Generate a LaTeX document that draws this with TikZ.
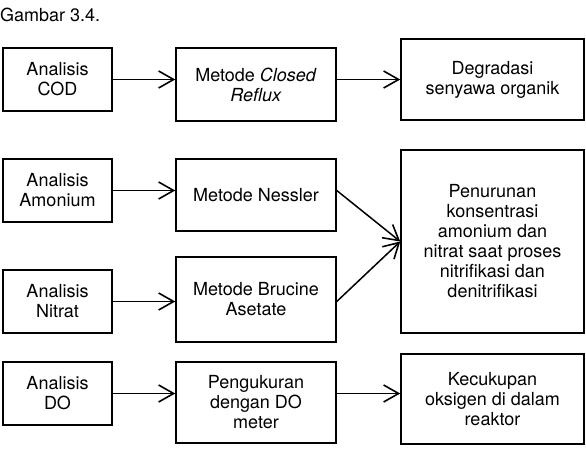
\documentclass[tikz,border=0pt]{standalone}
\usepackage{fontspec}
\setmainfont{TeX Gyre Heros}
\usepackage{tikz}
\usetikzlibrary{arrows.meta,
           positioning}

\tikzset{
  kotak/.style={draw, line width=1.5pt, align=center, inner sep=0pt,
                font=\fontsize{18}{20}\selectfont},
  kiri/.style={kotak, minimum width=109pt, minimum height=63pt},
  tengah/.style={kotak, minimum width=160pt},
  kanan/.style={kotak, minimum width=183pt},
  panah/.style={line width=1.5pt, -{Straight Barb[length=15pt,width=17pt,line width=1.6pt]}}
}

\begin{document}
\begin{tikzpicture}[x=1pt,y=-1pt]
    \useasboundingbox (0,0) rectangle (586,448);
    \node[anchor=base west, inner sep=0pt, font=\fontsize{18}{20}\selectfont](judul) at (0,21){Gambar 3.4.};
    % kolom analisis
    \node[kiri](cod)at(57.5,79.5){Analisis\\COD};
    \node[kiri](amon)at(57.5,190.5){Analisis\\Amonium};
    \node[kiri](nitrat)at(57.5,301.5){Analisis\\Nitrat};
    \node[kiri](do)at(57.5,393.5){Analisis\\DO};
    % kolom metode
    \node[tengah, minimum height=73pt](reflux)at(256,84.5){Metode \textit{Closed}\\\textit{Reflux}};
    \node[tengah, minimum height=72pt](nessler)at(256,195){Metode Nessler};
    \node[tengah, minimum height=85pt](brucine)at(256,299.5){Metode Brucine\\Asetate};
    \node[tengah, minimum height=81pt](ukur)at(256,402.5){Pengukuran\\dengan DO\\meter};
    % kolom hasil
    \node[kanan, minimum height=81pt](degradasi)at(492.5,79.5){Degradasi\\senyawa organik};
    \node[kanan, minimum height=183pt](turun)at(492.5,241.5){Penurunan\\konsentrasi\\amonium dan\\nitrat saat proses\\nitrifikasi dan\\denitrifikasi};
    \node[kanan, minimum height=90pt](cukup)at(492.5,399){Kecukupan\\oksigen di dalam\\reaktor};
    % panah
    \draw[panah] (cod.east)--(cod.east -| reflux.west);
    \draw[panah] (cod.east -| reflux.east)--(cod.east -| degradasi.west);
    \draw[panah] (amon.east)--(amon.east -| nessler.west);
    \draw[panah] (nitrat.east)--(nitrat.east -| brucine.west);
    \draw[panah] (do.east)--(do.east -| ukur.west);
    \draw[panah] (do.east -| ukur.east)--(do.east -| cukup.west);
    \draw[panah] (amon.east -| nessler.east)--(turun.west);
    \draw[panah] (nitrat.east -| brucine.east)--(turun.west);
\end{tikzpicture}
\end{document}
